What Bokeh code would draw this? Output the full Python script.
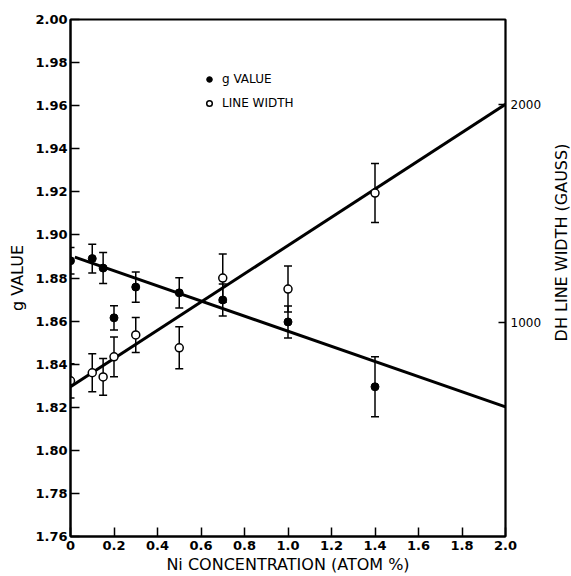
import math
from bokeh.plotting import figure
from bokeh.models import (Range1d, LinearAxis, FixedTicker, Whisker, TeeHead, Label,
                          ColumnDataSource, Legend, LegendItem, PrintfTickFormatter)
from bokeh.embed import file_html
from bokeh.resources import INLINE

# ---- data ----
conc = [0.0, 0.1, 0.15, 0.2, 0.3, 0.5, 0.7, 1.0, 1.4]
g_value = [1.888, 1.889, 1.8846, 1.8615, 1.8758, 1.8731, 1.8698, 1.8596, 1.8295]
g_err = [0.0062, 0.0067, 0.0072, 0.0056, 0.0070, 0.0070, 0.0074, 0.0074, 0.0139]
line_width = [735, 772, 753, 845, 945, 886, 1205, 1155, 1594]
lw_err = [78, 87, 84, 91, 80, 96, 110, 105, 135]

g_fit_x = [0.02, 2.0]
g_fit_y = [1.8897, 1.8202]
lw_fit_x = [0.0, 2.0]
lw_fit_y = [708, 2000]

x_ticks = [0.0, 0.2, 0.4, 0.6, 0.8, 1.0, 1.2, 1.4, 1.6, 1.8, 2.0]
y_ticks = [1.76, 1.78, 1.80, 1.82, 1.84, 1.86, 1.88, 1.90, 1.92, 1.94, 1.96, 1.98, 2.00]
lw_ticks = [1000, 2000]

FONT = "DejaVu Sans"

p = figure(width=571, height=576, output_backend="svg", toolbar_location=None,
           x_range=Range1d(0, 2.0), y_range=Range1d(1.76, 2.00),
           min_border_left=70, min_border_right=66, min_border_top=19,
           min_border_bottom=39)
p.extra_y_ranges = {"lw": Range1d(23, 2388)}
p.grid.visible = False
p.outline_line_color = "black"
p.outline_line_width = 2
p.background_fill_color = "white"
p.border_fill_color = "white"

# axes styling
xa = p.xaxis[0]
xa.ticker = FixedTicker(ticks=x_ticks)
xa.formatter = PrintfTickFormatter(format="%.1f")
xa.major_label_overrides = {0: "0"}
ya = p.yaxis[0]
ya.ticker = FixedTicker(ticks=y_ticks)
ya.formatter = PrintfTickFormatter(format="%.2f")

ra = LinearAxis(y_range_name="lw", ticker=FixedTicker(ticks=lw_ticks))
p.add_layout(ra, "right")

for ax in (xa, ya, ra):
    ax.major_tick_in = 9
    ax.major_tick_out = 0
    ax.minor_tick_in = 0
    ax.minor_tick_out = 0
    ax.major_tick_line_width = 1.5
    ax.major_tick_line_color = "black"
    ax.axis_line_width = 2
    ax.axis_line_color = "black"
    ax.major_label_text_font = FONT
    ax.major_label_text_font_style = "bold"
    ax.major_label_text_font_size = "13px"
    ax.major_label_text_color = "black"
    ax.axis_label_text_font = FONT
    ax.axis_label_text_font_style = "normal"
    ax.axis_label_text_font_size = "16px"
    ax.axis_label_text_color = "black"
xa.major_label_standoff = 4
xa.axis_label = "Ni CONCENTRATION (ATOM %)"
xa.axis_label_standoff = 2
ya.major_label_standoff = 3
ya.axis_label = "g VALUE"
ya.axis_label_standoff = 5

ra.major_tick_in = 7
ra.axis_line_width = 1.5
ra.major_label_text_font_style = "normal"
ra.major_label_text_font_size = "12px"
ra.major_label_standoff = 5

rt = Label(x=17, y=294, x_units="screen", y_units="screen",
           text="DH LINE WIDTH (GAUSS)", angle=math.pi / 2,
           text_align="center", text_baseline="middle",
           text_font=FONT, text_font_size="16px", text_color="black")
p.add_layout(rt, "right")

# fit lines
p.line(g_fit_x, g_fit_y, line_color="black", line_width=3)
p.line(lw_fit_x, lw_fit_y, line_color="black", line_width=3, y_range_name="lw")

# error bars
gsrc = ColumnDataSource(dict(x=conc, y=g_value,
                             lo=[v - e for v, e in zip(g_value, g_err)],
                             hi=[v + e for v, e in zip(g_value, g_err)]))
lsrc = ColumnDataSource(dict(x=conc, y=line_width,
                             lo=[v - e for v, e in zip(line_width, lw_err)],
                             hi=[v + e for v, e in zip(line_width, lw_err)]))
for src, rn in ((gsrc, "default"), (lsrc, "lw")):
    w = Whisker(source=src, base="x", lower="lo", upper="hi",
                line_color="black", line_width=1.5, y_range_name=rn,
                lower_head=TeeHead(size=8, line_width=1.5, line_color="black"),
                upper_head=TeeHead(size=8, line_width=1.5, line_color="black"))
    p.add_layout(w)

r_g = p.scatter("x", "y", source=gsrc, size=8, marker="circle",
                fill_color="black", line_color="black")
r_l = p.scatter("x", "y", source=lsrc, size=8, marker="circle",
                fill_color="white", line_color="black", line_width=1.5,
                y_range_name="lw")

legend = Legend(items=[LegendItem(label="g VALUE", renderers=[r_g]),
                       LegendItem(label="LINE WIDTH", renderers=[r_l])],
                location=(132, 423), padding=0, margin=0, spacing=4,
                label_height=20, glyph_width=14, glyph_height=20,
                label_standoff=6, border_line_alpha=0, background_fill_alpha=0,
                label_text_font=FONT, label_text_font_size="12px",
                label_text_color="black")
p.add_layout(legend, "center")

open("out.html", "w").write(file_html(p, INLINE))
